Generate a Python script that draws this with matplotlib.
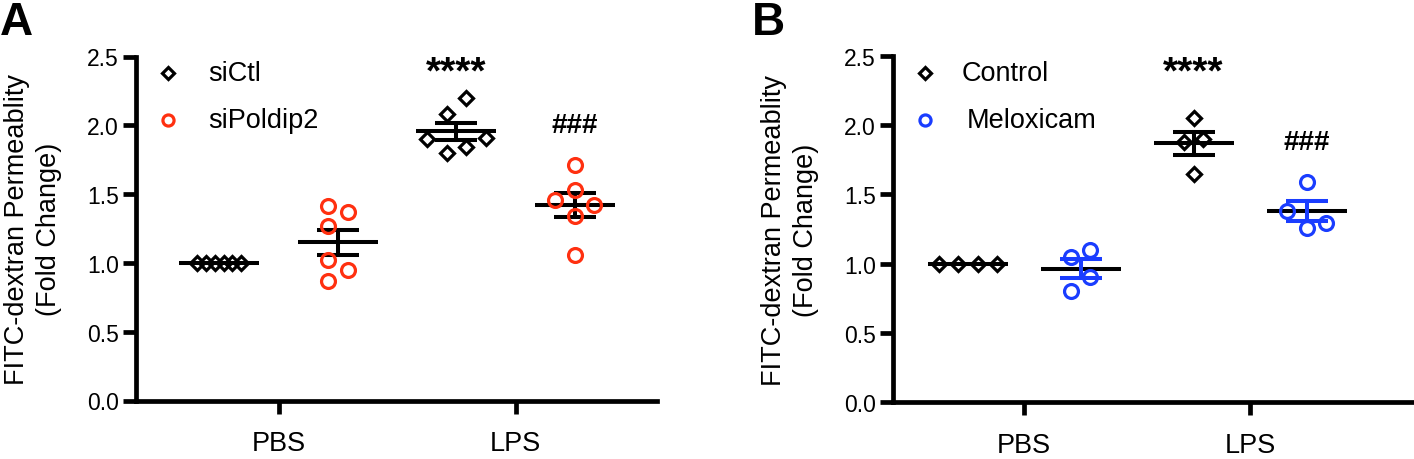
import numpy as np
import matplotlib
matplotlib.use('Agg')
import matplotlib.pyplot as plt

plt.rcParams['font.family'] = ['Liberation Sans', 'DejaVu Sans']

# Data
groups = ['PBS', 'LPS']

# Panel A
a_labels = ['siCtl', 'siPoldip2']
a_ctl_pbs = [1.0, 1.0, 1.0, 1.0, 1.0, 1.0]
a_si_pbs = [1.37, 1.41, 1.27, 1.02, 0.95, 0.87]
a_ctl_lps = [2.20, 2.08, 1.90, 1.91, 1.80, 1.84]
a_si_lps = [1.71, 1.53, 1.42, 1.46, 1.34, 1.06]

# Panel B
b_labels = ['Control', 'Meloxicam']
b_ctl_pbs = [1.0, 1.0, 1.0, 1.0]
b_mel_pbs = [1.10, 1.05, 0.90, 0.80]
b_ctl_lps = [2.05, 1.90, 1.88, 1.65]
b_mel_lps = [1.59, 1.38, 1.29, 1.26]

stars = '****'
hashes = '###'

RED = '#ff3010'
BLUE = '#1a3dff'

W, H, DPI = 14.14, 4.6, 100
fig = plt.figure(figsize=(W, H), dpi=DPI)

posA = [136.3 / 1414, 1 - 401.5 / 460, (657 - 136.3) / 1414, 344 / 460]
posB = [893.3 / 1414, 1 - 403 / 460, (1414 - 893.3) / 1414, 346 / 460]
xlimA = (0.40, 2.597)
xlimB = (0.42, 2.726)
OFF = 0.25


def swarm(vals, px_y, px_x, step=19.5, h=18, max_span=60, squeeze=44):
    # simple beeswarm: spread points that would overlap into columns
    vals = np.asarray(vals, float)
    n = len(vals)
    ypx = vals * px_y
    order = np.argsort(vals, kind='stable')
    col = np.zeros(n)
    placed = []
    cands = [0, 1, -1, 2, -2, 3, -3, 4, -4]
    for i in order:
        for c in cands:
            if all(not (col[j] == c and abs(ypx[i] - ypx[j]) < h) for j in placed):
                break
        col[i] = c
        placed.append(i)
    # recentre each touching cluster
    clusters = [[order[0]]]
    for a, b in zip(order[:-1], order[1:]):
        if ypx[b] - ypx[a] < h:
            clusters[-1].append(b)
        else:
            clusters.append([b])
    off = np.zeros(n)
    for cl in clusters:
        c = col[cl]
        c = c - (c.min() + c.max()) / 2
        o = c * step
        span = o.max() - o.min()
        if span > max_span:
            o = o * squeeze / span
        off[cl] = o
    return off / px_x


def panel(ax, pos, xlim, data, colors, markers, sizes, ebar_colors, labels, leg_text_x):
    ax.set_xlim(*xlim)
    ax.set_ylim(0, 2.5)
    px_x = pos[2] * W * DPI / (xlim[1] - xlim[0])
    px_y = pos[3] * H * DPI / 2.5
    half_mean = 40 / px_x
    half_cap = 21 / px_x
    for gi, g in enumerate(groups):
        for si in range(2):
            vals = np.asarray(data[si][gi])
            xc = gi + 1 + (-OFF if si == 0 else OFF)
            m = vals.mean()
            sem = vals.std(ddof=1) / np.sqrt(len(vals))
            ax.plot([xc - half_mean, xc + half_mean], [m, m], color='black', lw=2.9,
                    solid_capstyle='butt', zorder=2)
            ec = ebar_colors[si]
            if sem > 0:
                ax.plot([xc, xc], [m - sem, m + sem], color=ec, lw=2.9, zorder=2)
                for yy in (m - sem, m + sem):
                    ax.plot([xc - half_cap, xc + half_cap], [yy, yy], color=ec, lw=2.9,
                            solid_capstyle='butt', zorder=2)
            xs = xc + swarm(vals, px_y, px_x)
            ax.plot(xs, vals, ls='none', marker=markers[si], ms=sizes[si], mfc='none',
                    mec=colors[si], mew=2.3, zorder=3, clip_on=False)

    for s in ('top', 'right'):
        ax.spines[s].set_visible(False)
    for s in ('left', 'bottom'):
        ax.spines[s].set_linewidth(3.4)
    ax.spines['left'].set_bounds(0, 2.5)
    ax.set_yticks(np.arange(0, 2.51, 0.5))
    ax.set_yticklabels([f'{v:.1f}' for v in np.arange(0, 2.51, 0.5)])
    ax.set_xticks([1, 2])
    ax.set_xticklabels(groups)
    ax.tick_params(axis='both', width=3.4, length=9.5)
    ax.tick_params(axis='y', labelsize=16.5, pad=3)
    ax.tick_params(axis='x', labelsize=19.5, pad=12)
    ax.set_ylabel('FITC-dextran Permeablity\n(Fold Change)', fontsize=19.5, linespacing=1.3)
    ax.yaxis.set_label_coords(-0.143, 0.5)

    # legend
    for si, yy in enumerate((0.951, 0.814)):
        ax.plot([0.061], [yy], transform=ax.transAxes, ls='none', marker=markers[si],
                ms=sizes[si] * 0.8, mfc='none', mec=colors[si], mew=2.3, clip_on=False)
        ax.text(leg_text_x[si], yy, labels[si], transform=ax.transAxes, fontsize=19.5,
                va='center', ha='left')

    ax.text(2 - OFF, 2.31, stars, ha='center', va='baseline', fontsize=28, fontweight='bold')


axA = fig.add_axes(posA)
panel(axA, posA, xlimA,
      [[a_ctl_pbs, a_ctl_lps], [a_si_pbs, a_si_lps]],
      ['black', RED], ['D', 'o'], [7.3, 10], ['black', 'black'], a_labels, [0.138, 0.138])
axA.text(2 + OFF, 1.95, hashes, ha='center', va='baseline', fontsize=20, fontweight='bold')

axB = fig.add_axes(posB)
panel(axB, posB, xlimB,
      [[b_ctl_pbs, b_ctl_lps], [b_mel_pbs, b_mel_lps]],
      ['black', BLUE], ['D', 'o'], [7.3, 10], ['black', BLUE], b_labels, [0.132, 0.141])
axB.text(2 + OFF, 1.83, hashes, ha='center', va='baseline', fontsize=20, fontweight='bold')

fig.text(0.0, 0.998, 'A', ha='left', va='top', fontsize=33, fontweight='bold')
fig.text(752 / 1414, 0.998, 'B', ha='left', va='top', fontsize=33, fontweight='bold')

fig.savefig('out.png', dpi=DPI)
